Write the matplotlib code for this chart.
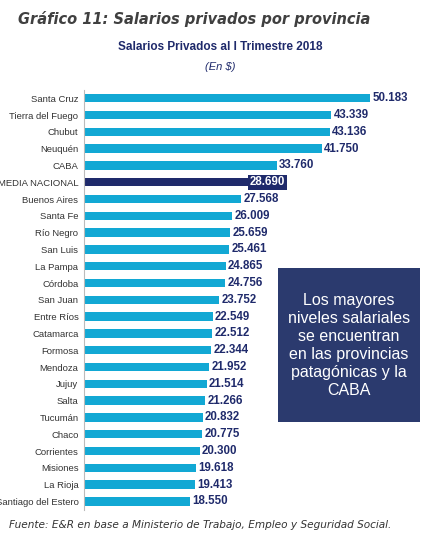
import matplotlib
matplotlib.use("Agg")
import matplotlib.pyplot as plt

provincias = ["Santa Cruz", "Tierra del Fuego", "Chubut", "Neuquén", "CABA", "MEDIA NACIONAL",
              "Buenos Aires", "Santa Fe", "Río Negro", "San Luis", "La Pampa", "Córdoba",
              "San Juan", "Entre Ríos", "Catamarca", "Formosa", "Mendoza", "Jujuy", "Salta",
              "Tucumán", "Chaco", "Corrientes", "Misiones", "La Rioja", "Santiago del Estero"]
salarios = [50183, 43339, 43136, 41750, 33760, 28690, 27568, 26009, 25659, 25461, 24865,
            24756, 23752, 22549, 22512, 22344, 21952, 21514, 21266, 20832, 20775, 20300,
            19618, 19413, 18550]

plt.rcParams['font.family'] = ['DejaVu Sans Condensed', 'Liberation Sans Narrow', 'DejaVu Sans']
navy = "#1f2a6b"
celeste = "#12a8d4"

fig = plt.figure(figsize=(4.4, 5.35), dpi=100)
ax = fig.add_axes([0.191, 0.047, 0.764, 0.785])

colores = [navy if p == "MEDIA NACIONAL" else celeste for p in provincias]
y = list(range(len(provincias)))
ax.barh(y, salarios, height=0.5, color=colores)
ax.set_ylim(len(provincias) - 0.5, -0.5)
ax.set_xlim(0, 58956)
ax.set_yticks(y)
ax.set_yticklabels(provincias, fontsize=6.8, color="#333333", family=["Liberation Sans"])
ax.tick_params(axis="y", length=0, pad=4)
ax.set_xticks([])
for s in ["top", "right", "bottom"]:
    ax.spines[s].set_visible(False)
ax.spines["left"].set_color("#bbbbbb")

for i, (p, v) in enumerate(zip(provincias, salarios)):
    etiqueta = f"{v:,}".replace(",", ".")
    if p == "MEDIA NACIONAL":
        ax.text(v + 400, i, etiqueta, va="center", ha="left", fontsize=8.3, fontweight="bold",
                color="white", family=["Liberation Sans"],
                bbox=dict(boxstyle="square,pad=0.15", fc=navy, ec="none"))
    else:
        ax.text(v + 400, i, etiqueta, va="center", ha="left", fontsize=8.3, fontweight="bold",
                color=navy, family=["Liberation Sans"])

fig.text(0.04, 0.965, "Gráfico 11: Salarios privados por provincia", fontsize=10.5,
         fontstyle="italic", fontweight="bold", color="#404040", family=["DejaVu Sans"], va="center")
fig.text(0.5, 0.913, "Salarios Privados al I Trimestre 2018", fontsize=8.5, fontweight="bold",
         color=navy, ha="center", va="center", family=["Liberation Sans"])
fig.text(0.5, 0.875, "(En $)", fontsize=8, fontstyle="italic", color=navy, ha="center", va="center",
         family=["Liberation Sans"])
fig.text(0.02, 0.018, "Fuente: E&R en base a Ministerio de Trabajo, Empleo y Seguridad Social.",
         fontsize=7.6, fontstyle="italic", color="#333333", family=["DejaVu Sans"], va="center")

fig.patches.append(plt.Rectangle((0.632, 0.211), 0.323, 0.288, transform=fig.transFigure,
                                 fc="#2b3a6e", ec="none", zorder=5))
fig.text(0.7935, 0.355, "Los mayores\nniveles salariales\nse encuentran\nen las provincias\npatagónicas y la\nCABA",
         ha="center", va="center", fontsize=11.5, color="white", linespacing=1.25,
         family=["Liberation Sans"], zorder=6)

fig.savefig("out.png", dpi=100)
